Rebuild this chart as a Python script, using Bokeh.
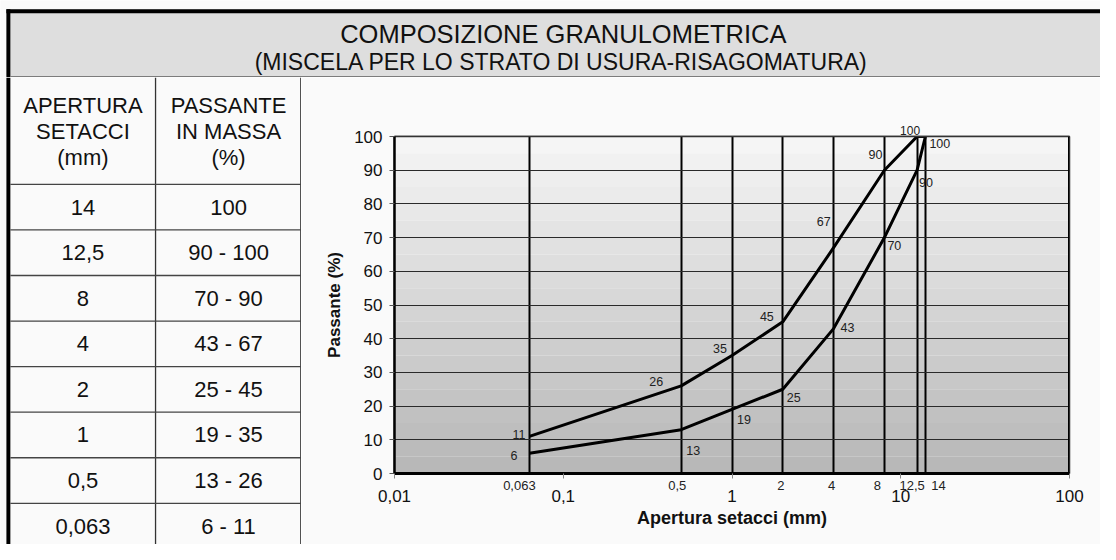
import numpy as np
from bokeh.plotting import figure
from bokeh.models import Range1d, FixedTicker, ColumnDataSource, LabelSet, Span, LogAxis
from bokeh.layouts import column, row
from bokeh.embed import file_html
from bokeh.resources import INLINE
from bokeh.core.properties import value

# ---------------- data ----------------
sieves = [0.063, 0.5, 1, 2, 4, 8, 12.5, 14]
sieve_labels = ["0,063", "0,5", "1", "2", "4", "8", "12,5", "14"]
lower = [6, 13, 19, 25, 43, 70, 90, 100]
upper = [11, 26, 35, 45, 67, 90, 100, 100]
decades = [0.01, 0.1, 1, 10, 100]
decade_labels = ["0,01", "0,1", "1", "10", "100"]
y_ticks = list(range(0, 101, 10))
title_text = "COMPOSIZIONE GRANULOMETRICA"
subtitle_text = "(MISCELA PER LO STRATO DI USURA-RISAGOMATURA)"
head_col1 = ["APERTURA", "SETACCI", "(mm)"]
head_col2 = ["PASSANTE", "IN MASSA", "(%)"]
x_title = "Apertura setacci (mm)"
y_title = "Passante (%)"

# ---------------- layout / styles ----------------
FONT = value("Liberation Sans")
FNAME = "Liberation Sans"
BG = "#fafafa"
W, H = 1100, 544
SX, SY = W / 1116, H / 560


def X(v):
    return v * SX


def Y(v):
    return v * SY


HDR_H = 77
BODY_H = H - HDR_H
TABLE_W = 301
CHART_W = W - TABLE_W

# label nudges (screen px)
upper_dx = [-4, -18, -5, -9, -3, -2]
upper_dy = [2, 4, 7, 5, 26, 16]
top_label_dx = -7
lower_dx = [-19, 5, 5, 4, 7, 3, 2, 4]
lower_dy = [-2, -21, -10, -8, 1, -8, -12, -7]
sieve_lab_dx = {0.063: -10, 0.5: -4, 2: -2, 4: -2, 8: -7, 12.5: -5, 14: 13}


def blank(width, height):
    f = figure(width=width, height=height, x_range=Range1d(0, width), y_range=Range1d(height, 0),
               output_backend="svg", toolbar_location=None, min_border=0,
               x_axis_location=None, y_axis_location=None, title=None)
    f.grid.visible = False
    f.outline_line_color = None
    f.background_fill_color = BG
    f.border_fill_color = BG
    f.frame_align = False
    return f


BL0, BL1 = X(6), X(10)  # left black border

# ---------------- header ----------------
hdr = blank(W, HDR_H)
hdr.quad(left=[BL0], right=[W], top=[Y(9)], bottom=[Y(78)], fill_color="#dedede", line_color=None)
hdr.quad(left=[BL0], right=[W], top=[Y(9)], bottom=[Y(13)], fill_color="black", line_color=None)
hdr.quad(left=[BL0], right=[BL1], top=[Y(9)], bottom=[HDR_H], fill_color="black", line_color=None)
hdr.quad(left=[BL1], right=[W], top=[Y(78)], bottom=[HDR_H], fill_color="#555555", line_color=None)
hdr.text(x=[X(571)], y=[Y(34)], text=[title_text], text_font=FONT, text_font_size="25.5px",
         text_align="center", text_baseline="middle", text_color="#111111")
hdr.text(x=[X(569)], y=[Y(63)], text=[subtitle_text], text_font=FONT, text_font_size="23px",
         text_align="center", text_baseline="middle", text_color="#111111")

# ---------------- table ----------------
tbl = blank(TABLE_W, BODY_H)


def TY(v):
    return Y(v) - HDR_H


tbl.quad(left=[BL0], right=[BL1], top=[0], bottom=[BODY_H], fill_color="black", line_color=None)
col_div = X(157.3)
tbl.segment(x0=[col_div], y0=[0], x1=[col_div], y1=[BODY_H], line_color="#333333", line_width=1.3)
tbl.segment(x0=[TABLE_W - 0.7], y0=[0], x1=[TABLE_W - 0.7], y1=[BODY_H], line_color="#333333", line_width=1.3)
head_h = TY(189.3)
row_h = Y(46.9)
n_rows = len(sieves)
hl = [head_h + k * row_h for k in range(n_rows)]
tbl.segment(x0=[BL1] * n_rows, y0=hl, x1=[TABLE_W] * n_rows, y1=hl, line_color="#444444", line_width=1.3)
c1 = (BL1 + col_div) / 2
c2 = (col_div + TABLE_W) / 2
head_y = [TY(108), TY(135), TY(162)]
tbl.text(x=[c1] * 3, y=head_y, text=head_col1, text_font=FONT, text_font_size="22px",
         text_align="center", text_baseline="middle", text_color="#111111")
tbl.text(x=[c2] * 3, y=head_y, text=head_col2, text_font=FONT, text_font_size="22px",
         text_align="center", text_baseline="middle", text_color="#111111")
row_sieves = sieve_labels[::-1]
row_pass = [str(h) if l == h else f"{l} - {h}" for l, h in zip(lower[::-1], upper[::-1])]
row_y = [head_h + (k + 0.5) * row_h for k in range(n_rows)]
tbl.text(x=[c1] * n_rows, y=row_y, text=row_sieves, text_font=FONT, text_font_size="22px",
         text_align="center", text_baseline="middle", text_color="#111111")
tbl.text(x=[c2] * n_rows, y=row_y, text=row_pass, text_font=FONT, text_font_size="22px",
         text_align="center", text_baseline="middle", text_color="#111111")

# ---------------- chart ----------------
fl, fr = X(400), X(1085)
ft, fb = Y(139.5), Y(486.5)
PX_DEC = (fr - fl) / 4.0


def nudge(v, dx):
    return round(v * 10 ** (dx / PX_DEC), 6)


p = figure(width=CHART_W, height=BODY_H, x_axis_type="log",
           x_range=Range1d(0.01, 100), y_range=Range1d(0, 100),
           output_backend="svg", toolbar_location=None, title=None,
           min_border_left=round(fl - TABLE_W), min_border_right=round(W - fr),
           min_border_top=round(ft - HDR_H), min_border_bottom=round(H - fb))
p.frame_align = False
p.background_fill_color = BG
p.border_fill_color = BG
p.outline_line_color = "#333333"
p.outline_line_width = 1.5

# gradient background bands
edges = np.linspace(0, 100, 21)
shades = np.linspace(184, 245, 20).astype(int)
bg = p.quad(left=[0.01] * 20, right=[100] * 20, bottom=edges[:-1], top=edges[1:],
            fill_color=[f"#{s:02x}{s:02x}{s:02x}" for s in shades], line_color=None)
bg.level = "image"

# grid
p.ygrid.ticker = FixedTicker(ticks=y_ticks)
p.ygrid.grid_line_color = "#2a2a2a"
p.ygrid.grid_line_width = 1
p.xgrid.ticker = FixedTicker(ticks=sieves)
p.xgrid.grid_line_color = "#000000"
p.xgrid.grid_line_width = 2

# y axis
p.yaxis.ticker = FixedTicker(ticks=y_ticks)
p.yaxis.axis_line_color = "black"
p.yaxis.axis_line_width = 2.5
p.yaxis.major_tick_line_color = "#555555"
p.yaxis.major_tick_out = 5
p.yaxis.major_tick_in = 0
p.yaxis.minor_tick_line_color = None
p.yaxis.major_label_text_font = FNAME
p.yaxis.major_label_text_font_size = "17px"
p.yaxis.major_label_text_color = "#111111"
p.yaxis.major_label_standoff = 7
p.yaxis.axis_label = y_title
p.yaxis.axis_label_text_font = FNAME
p.yaxis.axis_label_text_font_size = "17px"
p.yaxis.axis_label_text_font_style = "bold"
p.yaxis.axis_label_text_color = "#111111"
p.yaxis.axis_label_standoff = 7

# x axis 1: sieve labels (small) + decade tick marks
sv = [s for s in sieves if s not in decades]
sv_lab = [l for s, l in zip(sieves, sieve_labels) if s not in decades]
sv_pos = [nudge(s, sieve_lab_dx[s]) for s in sv]
ax1 = p.xaxis[0]
ax1.ticker = FixedTicker(ticks=sv_pos, minor_ticks=decades)
ax1.major_label_overrides = {pos: l for pos, l in zip(sv_pos, sv_lab)}
ax1.axis_line_color = "black"
ax1.axis_line_width = 3
ax1.major_tick_line_color = None
ax1.major_tick_out = 0
ax1.major_tick_in = 0
ax1.minor_tick_line_color = "#888888"
ax1.minor_tick_line_width = 1
ax1.minor_tick_out = 5
ax1.minor_tick_in = 0
ax1.major_label_text_font = FNAME
ax1.major_label_text_font_size = "13px"
ax1.major_label_text_color = "#222222"
ax1.major_label_standoff = 2

# x axis 2: decade labels + title
ax2 = LogAxis(ticker=FixedTicker(ticks=decades, minor_ticks=[]),
              major_label_overrides={d: l for d, l in zip(decades, decade_labels)},
              axis_line_color=None, major_tick_line_color=None, major_tick_out=0, major_tick_in=0,
              minor_tick_line_color=None, minor_tick_out=0, minor_tick_in=0,
              major_label_text_font=FNAME, major_label_text_font_size="17px",
              major_label_text_color="#111111", major_label_standoff=-3,
              axis_label=x_title, axis_label_text_font=FNAME, axis_label_text_font_size="18px",
              axis_label_text_font_style="bold", axis_label_text_color="#111111",
              axis_label_standoff=3)
p.add_layout(ax2, "below")

# top axis: carries the data label that sits above the frame
top_pos = nudge(sieves[6], top_label_dx)
ax_top = LogAxis(ticker=FixedTicker(ticks=[top_pos], minor_ticks=[]),
                 major_label_overrides={top_pos: str(upper[6])},
                 axis_line_color="#333333", axis_line_width=1.5,
                 major_tick_line_color=None, major_tick_out=0, major_tick_in=0,
                 minor_tick_line_color=None, minor_tick_out=0, minor_tick_in=0,
                 major_label_text_font=FNAME, major_label_text_font_size="12px",
                 major_label_text_color="#222222", major_label_standoff=2)
p.add_layout(ax_top, "above")

p.add_layout(Span(location=100, dimension="height", line_color="black", line_width=3))

# curves
p.line(sieves, upper, line_color="black", line_width=3, line_join="round")
p.line(sieves, lower, line_color="black", line_width=3, line_join="round")

# data labels
up_src = ColumnDataSource(dict(x=sieves[:6], y=upper[:6], t=[str(v) for v in upper[:6]],
                               dx=upper_dx, dy=upper_dy))
lo_src = ColumnDataSource(dict(x=sieves, y=lower, t=[str(v) for v in lower],
                               dx=lower_dx, dy=lower_dy))
p.add_layout(LabelSet(x="x", y="y", text="t", source=up_src, x_offset="dx", y_offset="dy",
                      text_align="right", text_baseline="middle", text_font=FONT,
                      text_font_size="12.5px", text_color="#222222"))
p.add_layout(LabelSet(x="x", y="y", text="t", source=lo_src, x_offset="dx", y_offset="dy",
                      text_align="left", text_baseline="middle", text_font=FONT,
                      text_font_size="12.5px", text_color="#222222"))

layout = column(hdr, row(tbl, p))
open("out.html", "w").write(file_html(layout, INLINE))
